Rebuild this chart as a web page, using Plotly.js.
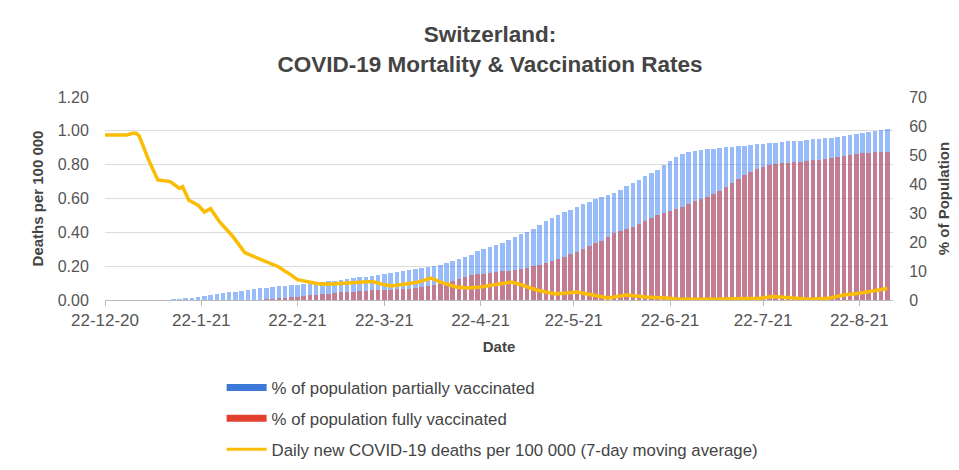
<!DOCTYPE html>
<html>
<head>
<meta charset="utf-8">
<script src="https://cdn.plot.ly/plotly-3.0.1.min.js"></script>
<style>html,body{margin:0;padding:0;background:#fff;}#chart{width:959px;height:470px;}</style>
</head>
<body>
<div id="chart"></div>
<script>
// Bars: one reading every 2 days starting 22 Dec 2020
const barStart = '2020-12-22';
const barStepDays = 2;
const partiallyVaccinated = [
0,0,0,0,0,0,0,0,0,0,
0.1,0.2,0.4,0.6,0.8,1.1,1.4,1.7,2.0,2.3,
2.6,2.8,3.1,3.4,3.7,4.0,4.2,4.5,4.7,4.9,
5.1,5.3,5.5,5.7,5.9,6.1,6.4,6.6,6.9,7.2,
7.5,7.8,8.0,8.3,8.5,8.8,9.2,9.6,10.0,10.4,
10.8,11.1,11.4,11.8,12.2,12.7,13.3,14.0,14.7,15.6,
16.8,17.7,18.3,18.9,19.8,20.8,21.7,22.6,23.5,24.6,
26.0,27.3,28.3,29.2,30.3,31.2,32.0,33.0,33.8,34.8,
35.6,36.3,37.0,38.0,39.2,40.3,41.5,42.7,43.8,45.0,
46.5,48.0,49.2,50.2,50.9,51.4,51.7,52.0,52.2,52.4,
52.6,52.8,53.0,53.2,53.5,53.7,53.9,54.1,54.3,54.5,
54.7,54.9,55.0,55.2,55.4,55.6,55.8,56.0,56.3,56.6,
57.0,57.3,57.7,58.1,58.4,58.7,59.0];
const fullyVaccinated = [
0,0,0,0,0,0,0,0,0,0,
0,0,0,0,0,0,0,0,0,0,
0,0,0,0,0,
0.1,0.2,0.4,0.6,0.8,
1.0,1.2,1.4,1.6,1.8,2.0,2.2,2.4,2.6,2.8,
2.9,3.0,3.1,3.3,3.4,3.5,3.6,3.7,3.8,3.9,
4.1,4.4,4.8,5.2,5.6,5.9,6.5,7.2,7.9,8.5,
8.8,9.1,9.4,9.7,9.9,10.1,10.4,10.8,11.2,11.6,
12.1,12.6,13.3,14.1,15.0,15.8,16.7,17.6,18.5,19.6,
20.5,21.8,23.0,23.8,24.6,25.3,26.2,27.2,28.2,29.2,
30.0,30.6,31.3,32.2,33.2,34.0,34.8,35.6,36.5,37.7,
39.0,40.4,41.8,43.0,44.2,45.2,46.0,46.6,46.9,47.1,
47.3,47.5,47.7,47.9,48.2,48.4,48.7,49.0,49.3,49.7,
50.0,50.3,50.6,50.8,50.9,51.0,51.1];

// Daily deaths per 100 000 (7-day moving average)
const deathDates = ['2020-12-22','2020-12-27','2020-12-29','2020-12-31','2021-01-01','2021-01-02','2021-01-05','2021-01-08','2021-01-12','2021-01-15','2021-01-16','2021-01-18','2021-01-21','2021-01-23','2021-01-25','2021-01-28','2021-02-01','2021-02-05','2021-02-10','2021-02-14','2021-02-16','2021-02-18','2021-02-19','2021-02-22','2021-02-25','2021-03-01','2021-03-05','2021-03-09','2021-03-15','2021-03-18','2021-03-21','2021-03-24','2021-03-29','2021-04-02','2021-04-06','2021-04-09','2021-04-14','2021-04-18','2021-04-22','2021-04-27','2021-05-02','2021-05-05','2021-05-10','2021-05-16','2021-05-23','2021-05-28','2021-06-02','2021-06-08','2021-06-14','2021-06-21','2021-06-25','2021-07-05','2021-07-14','2021-07-21','2021-07-25','2021-07-30','2021-08-06','2021-08-12','2021-08-17','2021-08-22','2021-08-28','2021-08-31'];
const deaths = [0.975,0.975,0.975,0.985,0.985,0.97,0.83,0.71,0.70,0.66,0.67,0.59,0.56,0.52,0.54,0.46,0.38,0.28,0.24,0.21,0.195,0.17,0.16,0.12,0.11,0.095,0.095,0.10,0.11,0.11,0.095,0.083,0.095,0.106,0.13,0.106,0.077,0.071,0.077,0.089,0.106,0.09,0.059,0.035,0.047,0.03,0.012,0.03,0.018,0.012,0.005,0.005,0.008,0.01,0.02,0.015,0.005,0.01,0.03,0.04,0.06,0.068];

const tickDates = ['2020-12-22','2021-01-22','2021-02-22','2021-03-22','2021-04-22','2021-05-22','2021-06-22','2021-07-22','2021-08-22'];
const tickLabels = ['22-12-20','22-1-21','22-2-21','22-3-21','22-4-21','22-5-21','22-6-21','22-7-21','22-8-21'];
const leftTicks = [0,0.2,0.4,0.6,0.8,1.0,1.2];
const rightTicks = [0,10,20,30,40,50,60,70];

const names = ['% of population partially vaccinated','% of population fully vaccinated','Daily new COVID-19 deaths per 100 000 (7-day moving average)'];

const DAY = 86400000;
const t0 = Date.parse(barStart + 'T00:00:00Z');
const barDates = partiallyVaccinated.map((_, i) => new Date(t0 + i * barStepDays * DAY).toISOString().slice(0, 10));

const FONT = 'Liberation Sans, Arial, sans-serif';

const traces = [
  {type:'bar', x:barDates, y:partiallyVaccinated, yaxis:'y', width:1.45*DAY,
   marker:{color:'rgba(66,133,244,0.55)', line:{width:0}}, showlegend:false, hoverinfo:'skip'},
  {type:'bar', x:barDates, y:fullyVaccinated, yaxis:'y', width:1.45*DAY,
   marker:{color:'rgba(234,67,53,0.52)', line:{width:0}}, showlegend:false, hoverinfo:'skip'},
  {type:'scatter', mode:'lines', x:deathDates, y:deaths, yaxis:'y2',
   line:{color:'#fbbc04', width:3.5}, showlegend:false},
  // legend entries
  {type:'scatter', mode:'lines', x:[null], y:[null], yaxis:'y2', name:names[0], legendgroup:'a',
   line:{color:'#3c78d8', width:7}},
  {type:'scatter', mode:'lines', x:[null], y:[null], yaxis:'y2', name:names[1], legendgroup:'b',
   line:{color:'#e2412f', width:7}},
  {type:'scatter', mode:'lines', x:[null], y:[null], yaxis:'y2', name:names[2], legendgroup:'c',
   line:{color:'#fbbc04', width:3}}
];

const layout = {
  width:959, height:470,
  margin:{l:105, r:66, t:97, b:170, pad:0, autoexpand:false},
  paper_bgcolor:'#fff', plot_bgcolor:'rgba(0,0,0,0)',
  font:{family:FONT, color:'#555', size:16},
  barmode:'overlay', bargap:0,
  title:{text:'<b>Switzerland:<br>COVID-19 Mortality & Vaccination Rates</b>',
         font:{family:FONT, size:22.5, color:'#444'}, x:0.511, xref:'container', xanchor:'center',
         y:0.91, yref:'container', yanchor:'top'},
  xaxis:{type:'date', range:['2020-12-22','2021-09-01 20:00'], tickvals:tickDates, ticktext:tickLabels,
         showgrid:false, zeroline:false, showline:true, linecolor:'#bbb', linewidth:1,
         ticks:'outside', ticklen:5, tickcolor:'#bbb', tickfont:{size:17, color:'#555'},
         title:{text:'<b>Date</b>', font:{size:15, color:'#444'}, standoff:12}},
  yaxis:{side:'right', range:[0,70], tickvals:rightTicks, showgrid:false, zeroline:false,
         ticks:'outside', ticklen:12, tickcolor:'rgba(0,0,0,0)', tickfont:{size:16, color:'#555'},
         title:{text:'<b>% of Population</b>', font:{size:15, color:'#444'}, standoff:12}},
  yaxis2:{side:'left', overlaying:'y', range:[0,1.2], tickvals:leftTicks, tickformat:'.2f',
          showgrid:true, gridcolor:'#dcdcdc', gridwidth:1, zeroline:false,
          ticks:'outside', ticklen:12, tickcolor:'rgba(0,0,0,0)', tickfont:{size:16, color:'#555'},
          title:{text:'<b>Deaths per 100 000</b>', font:{size:15, color:'#444'}, standoff:10}},
  showlegend:true,
  legend:{x:0.148, xanchor:'left', y:-0.345, yanchor:'top', orientation:'v',
          font:{size:16.8, color:'#444'}, itemwidth:40, tracegroupgap:6, bgcolor:'rgba(0,0,0,0)'}
};

Plotly.newPlot('chart', traces, layout, {displayModeBar:false, staticPlot:true});
</script>
</body>
</html>
